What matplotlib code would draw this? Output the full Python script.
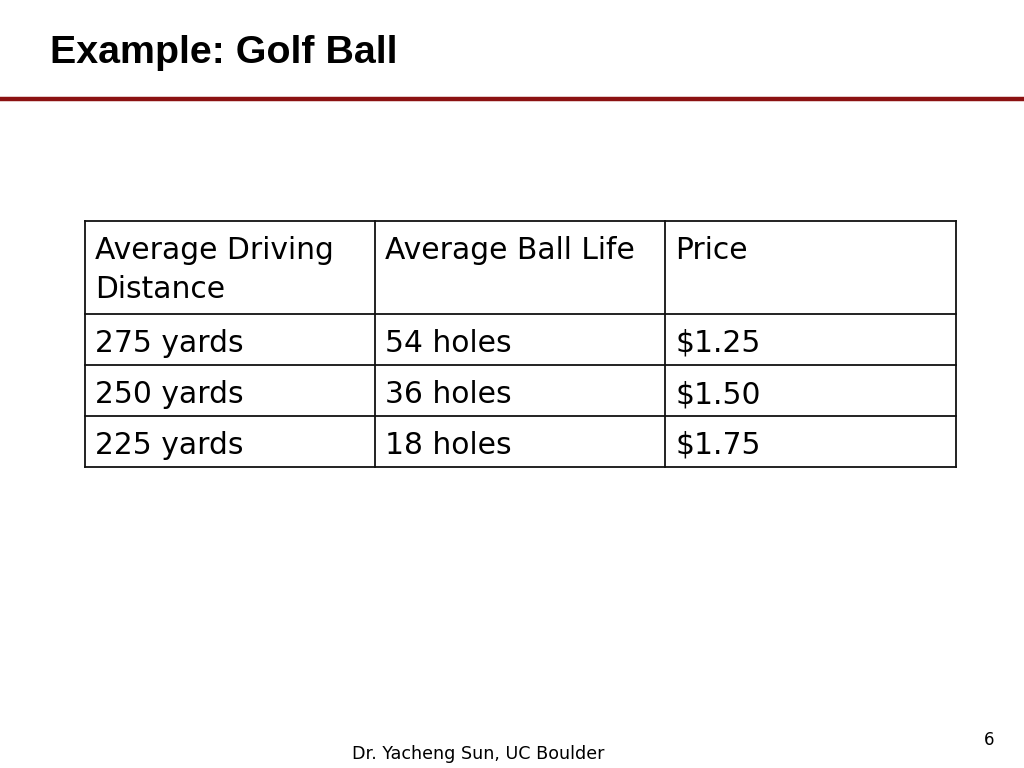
import matplotlib
matplotlib.use("Agg")
import matplotlib.pyplot as plt
from matplotlib.lines import Line2D

title = "Example: Golf Ball"
headers = ["Average Driving\nDistance", "Average Ball Life", "Price"]
distances = ["275 yards", "250 yards", "225 yards"]
ball_life = ["54 holes", "36 holes", "18 holes"]
prices = ["$1.25", "$1.50", "$1.75"]
footer = "Dr. Yacheng Sun, UC Boulder"
page = "6"

W, H = 1024, 768
fig = plt.figure(figsize=(W / 100, H / 100), dpi=100)
fig.patch.set_facecolor("white")


def fx(x):
    return x / W


def fy(y):
    return 1 - y / H


# Title
fig.text(fx(50), fy(63), title, fontsize=28.4, fontweight="bold",
         family="Liberation Sans", va="baseline", ha="left", color="black")

# Red rule
fig.add_artist(Line2D([0, 1], [fy(98.5), fy(98.5)], transform=fig.transFigure,
                      color="#8b1111", linewidth=3.2))

# Table
col_x = [85, 375, 665, 956]
row_y = [221, 314, 365, 416, 467]
rows = [headers] + [list(r) for r in zip(distances, ball_life, prices)]

tfont = dict(family="DejaVu Sans", fontsize=21.4, color="black")

for x in col_x:
    fig.add_artist(Line2D([fx(x), fx(x)], [fy(row_y[0]), fy(row_y[-1])],
                          transform=fig.transFigure, color="#111111", linewidth=1.3))
for y in row_y:
    fig.add_artist(Line2D([fx(col_x[0]), fx(col_x[-1])], [fy(y), fy(y)],
                          transform=fig.transFigure, color="#111111", linewidth=1.3))

for i, row in enumerate(rows):
    top = row_y[i]
    for j, txt in enumerate(row):
        lines = txt.split("\n")
        for k, ln in enumerate(lines):
            fig.text(fx(col_x[j] + 10), fy(top + 38 + k * 39), ln,
                     va="baseline", ha="left", **tfont)

# Footer
fig.text(fx(478.5), fy(759), footer, family="DejaVu Sans", fontsize=12.6,
         ha="center", va="baseline", color="black")
fig.text(fx(989), fy(745), page, family="DejaVu Sans", fontsize=12,
         ha="center", va="baseline", color="black")

fig.savefig("out.png", dpi=100, facecolor="white")
